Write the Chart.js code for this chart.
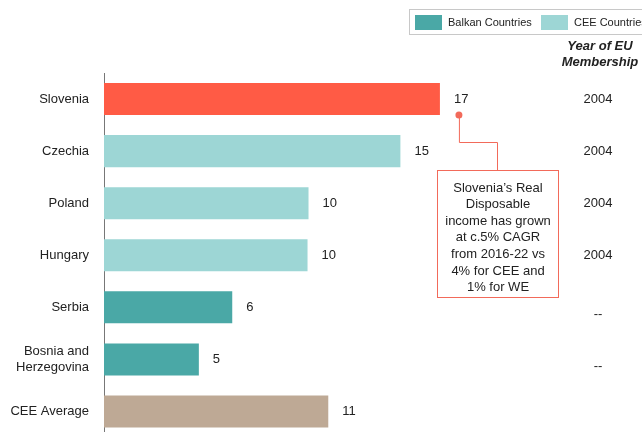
<!DOCTYPE html>
<html>
<head>
<meta charset="utf-8">
<script src="https://cdn.jsdelivr.net/npm/chart.js@4"></script>
<style>
  html, body { margin: 0; padding: 0; overflow: hidden; background: #fff; }
  #wrap { width: 642px; height: 432px; overflow: hidden; }
</style>
</head>
<body>
<div id="wrap"><canvas id="chart" width="642" height="461"></canvas></div>
<script>
// data
const countries = ["Slovenia", "Czechia", "Poland", "Hungary", "Serbia", ["Bosnia and", "Herzegovina"], "CEE Average"];
const values = [17.0, 15.0, 10.35, 10.3, 6.49, 4.8, 11.35];
const groups = ["highlight", "cee", "cee", "cee", "balkan", "balkan", "average"];
const euYears = ["2004", "2004", "2004", "2004", "--", "--", ""];
const legendLabels = ["Balkan Countries", "CEE Countries"];
const noteLines = ["Slovenia\u2019s Real", "Disposable", "income has grown", "at c.5% CAGR", "from 2016-22 vs", "4% for CEE and", "1% for WE"];

const groupColors = {
    highlight: "#ff5b45",
    cee: "#9dd6d5",
    balkan: "#4aa8a6",
    average: "#bea995"
};

const FONT = "'Liberation Sans', Arial, sans-serif";
const TEXT = "#222";

const extras = {
    id: "extras",
    afterDraw(chart) {
        const ctx = chart.ctx;
        const y = chart.scales.y;
        const bars = chart.getDatasetMeta(0).data;
        ctx.save();
        ctx.fillStyle = TEXT;
        ctx.font = "13px " + FONT;
        ctx.textBaseline = "middle";

        // value labels
        ctx.textAlign = "left";
        bars.forEach((b, i) => {
            ctx.fillText(String(Math.round(values[i])), b.x + 14, b.y);
        });

        // year column
        ctx.textAlign = "center";
        euYears.forEach((t, i) => {
            if (t) ctx.fillText(t, 598, y.getPixelForValue(i) + (t === "--" ? 7 : 0));
        });
        ctx.font = "italic bold 13px " + FONT;
        ctx.fillText("Year of EU", 600, 46);
        ctx.fillText("Membership", 600, 62);

        // legend
        ctx.strokeStyle = "#c8c8c8";
        ctx.lineWidth = 1;
        ctx.strokeRect(409.5, 9.5, 240, 25);
        ctx.font = "11px " + FONT;
        ctx.textAlign = "left";
        ctx.fillStyle = groupColors.balkan;
        ctx.fillRect(415, 15, 27, 15);
        ctx.fillStyle = TEXT;
        ctx.fillText(legendLabels[0], 448, 23);
        ctx.fillStyle = groupColors.cee;
        ctx.fillRect(541, 15, 27, 15);
        ctx.fillStyle = TEXT;
        ctx.fillText(legendLabels[1], 574, 23);

        // annotation for Slovenia
        const s = bars[0];
        const dotX = s.x + 19;
        const dotY = s.y + s.height / 2;
        ctx.strokeStyle = "#f26a5a";
        ctx.fillStyle = "#f26a5a";
        ctx.beginPath();
        ctx.arc(dotX, dotY, 3.5, 0, Math.PI * 2);
        ctx.fill();
        ctx.beginPath();
        ctx.moveTo(dotX + 0.5, dotY);
        ctx.lineTo(dotX + 0.5, 142.5);
        ctx.lineTo(497.5, 142.5);
        ctx.lineTo(497.5, 170);
        ctx.stroke();
        ctx.strokeRect(437.5, 170.5, 121, 127);
        ctx.fillStyle = TEXT;
        ctx.font = "13px " + FONT;
        ctx.textAlign = "center";
        noteLines.forEach((l, i) => ctx.fillText(l, 498, 188 + i * 16.6));
        ctx.restore();
    }
};

new Chart(document.getElementById("chart"), {
    type: "bar",
    data: {
        labels: countries,
        datasets: [{
            data: values,
            backgroundColor: groups.map(g => groupColors[g]),
            borderWidth: 0,
            barPercentage: 0.615,
            categoryPercentage: 1
        }]
    },
    options: {
        indexAxis: "y",
        responsive: false,
        animation: false,
        layout: { padding: { top: 73, bottom: 2, left: 0, right: 44 } },
        plugins: { legend: { display: false }, tooltip: { enabled: false } },
        scales: {
            x: { display: false, min: 0, max: 25 },
            y: {
                grid: { display: false, drawTicks: false },
                border: { display: true, color: "#777", width: 1 },
                ticks: { color: TEXT, font: { family: FONT, size: 13, lineHeight: 1.3 }, padding: 15 },
                afterFit(scale) { scale.width = 104; }
            }
        }
    },
    plugins: [extras]
});
</script>
</body>
</html>
